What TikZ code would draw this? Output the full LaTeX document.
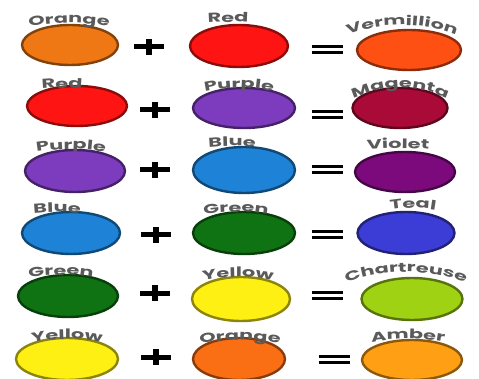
\documentclass[tikz,border=0pt]{standalone}
\usepackage{fontspec}
\usetikzlibrary{shapes.geometric,decorations.text}
\newfontfamily\lbl{Poppins}[FakeStretch=1.6]
\definecolor{lblgray}{RGB}{90,90,90}
\definecolor{cOrange}{RGB}{240,120,20}
\definecolor{cOrangeB}{RGB}{250,110,20}
\definecolor{cRed}{RGB}{255,20,20}
\definecolor{cVerm}{RGB}{255,80,20}
\definecolor{cPurple}{RGB}{125,60,190}
\definecolor{cMagenta}{RGB}{170,10,55}
\definecolor{cBlue}{RGB}{30,130,215}
\definecolor{cViolet}{RGB}{125,10,125}
\definecolor{cGreen}{RGB}{15,115,20}
\definecolor{cTeal}{RGB}{60,60,215}
\definecolor{cYellow}{RGB}{255,240,20}
\definecolor{cChart}{RGB}{160,210,20}
\definecolor{cAmber}{RGB}{255,160,20}
\tikzset{
  button/.style={ellipse, inner sep=0pt, fill=#1, draw=#1!55!black, line width=2.4pt},
  barline/.style={line width=#1, black},
  plussign/.pic={
    \draw[barline=5pt] (-15,0) -- (15,0);
    \draw[barline=6pt] (0,-8) -- (0,8);
  },
  eqsign/.pic={
    \draw[barline=3pt] (-15.5,-3) -- (15.5,-3);
    \draw[barline=3pt] (-15.5,3) -- (15.5,3);
  }
}
% cx, baseline y, radius, text
\newcommand\arclbl[4]{%
  \path[decorate, decoration={text along path, text align=center, text color=lblgray,
      text={|\lbl\bfseries\fontsize{13}{13}\selectfont|#4}}]
    (#1,#2) ++(0,#3) ++({270-4600/#3}:#3) arc[start angle={270-4600/#3}, end angle={270+4600/#3}, radius=#3];
}
\begin{document}
\begin{tikzpicture}[x=1pt,y=-1pt]
\useasboundingbox[fill=white] (0,0) rectangle (479,379);
% row 1
\node[button=cOrange, minimum width=96pt, minimum height=40pt] (e11) at (70,45) {};
\node[button=cRed, minimum width=98pt, minimum height=42pt] (e12) at (239,46) {};
\node[button=cVerm, minimum width=104pt, minimum height=40pt] (e13) at (409,50) {};
% row 2
\node[button=cRed, minimum width=100pt, minimum height=40pt] (e21) at (77,106) {};
\node[button=cPurple, minimum width=102pt, minimum height=40pt] (e22) at (244,108) {};
\node[button=cMagenta, minimum width=95pt, minimum height=40pt] (e23) at (400,108) {};
% row 3
\node[button=cPurple, minimum width=100pt, minimum height=42pt] (e31) at (75,171) {};
\node[button=cBlue, minimum width=102pt, minimum height=46pt] (e32) at (244,170) {};
\node[button=cViolet, minimum width=100pt, minimum height=40pt] (e33) at (405,172) {};
% row 4
\node[button=cBlue, minimum width=98pt, minimum height=42pt] (e41) at (71,233) {};
\node[button=cGreen, minimum width=102pt, minimum height=42pt] (e42) at (244,233) {};
\node[button=cTeal, minimum width=97pt, minimum height=42pt] (e43) at (406,233) {};
% row 5
\node[button=cGreen, minimum width=100pt, minimum height=42pt] (e51) at (68,296) {};
\node[button=cYellow, minimum width=98pt, minimum height=44pt] (e52) at (241,299) {};
\node[button=cChart, minimum width=101pt, minimum height=42pt] (e53) at (412,299) {};
% row 6
\node[button=cYellow, minimum width=102pt, minimum height=42pt] (e61) at (67,359) {};
\node[button=cOrangeB, minimum width=92pt, minimum height=42pt] (e62) at (239,359) {};
\node[button=cAmber, minimum width=100pt, minimum height=40pt] (e63) at (412,360) {};
% operators
\pic at (149,47) {plussign};
\pic at (155,110) {plussign};
\pic at (155,170) {plussign};
\pic at (156,235) {plussign};
\pic at (155,293) {plussign};
\pic at (156,357) {plussign};
\pic at (327,50) {eqsign};
\pic at (327,115) {eqsign};
\pic at (327,170) {eqsign};
\pic at (327,235) {eqsign};
\pic at (327,295) {eqsign};
\pic at (334,359) {eqsign};
% labels
\arclbl{69}{23}{220}{Orange}
\arclbl{228}{22}{300}{Red}
\arclbl{402}{25}{150}{Vermillion}
\arclbl{62}{88}{200}{Red}
\arclbl{239}{88}{160}{Purple}
\arclbl{400}{88}{110}{Magenta}
\arclbl{71}{149}{200}{Purple}
\arclbl{232}{146}{220}{Blue}
\arclbl{398}{148}{350}{Violet}
\arclbl{57}{212}{200}{Blue}
\arclbl{236}{212}{200}{Green}
\arclbl{413}{208}{130}{Teal}
\arclbl{61}{275}{200}{Green}
\arclbl{238}{277}{160}{Yellow}
\arclbl{406}{272}{170}{Chartreuse}
\arclbl{67}{339}{160}{Yellow}
\arclbl{240}{340}{220}{Orange}
\arclbl{408}{339}{200}{Amber}
\end{tikzpicture}
\end{document}
